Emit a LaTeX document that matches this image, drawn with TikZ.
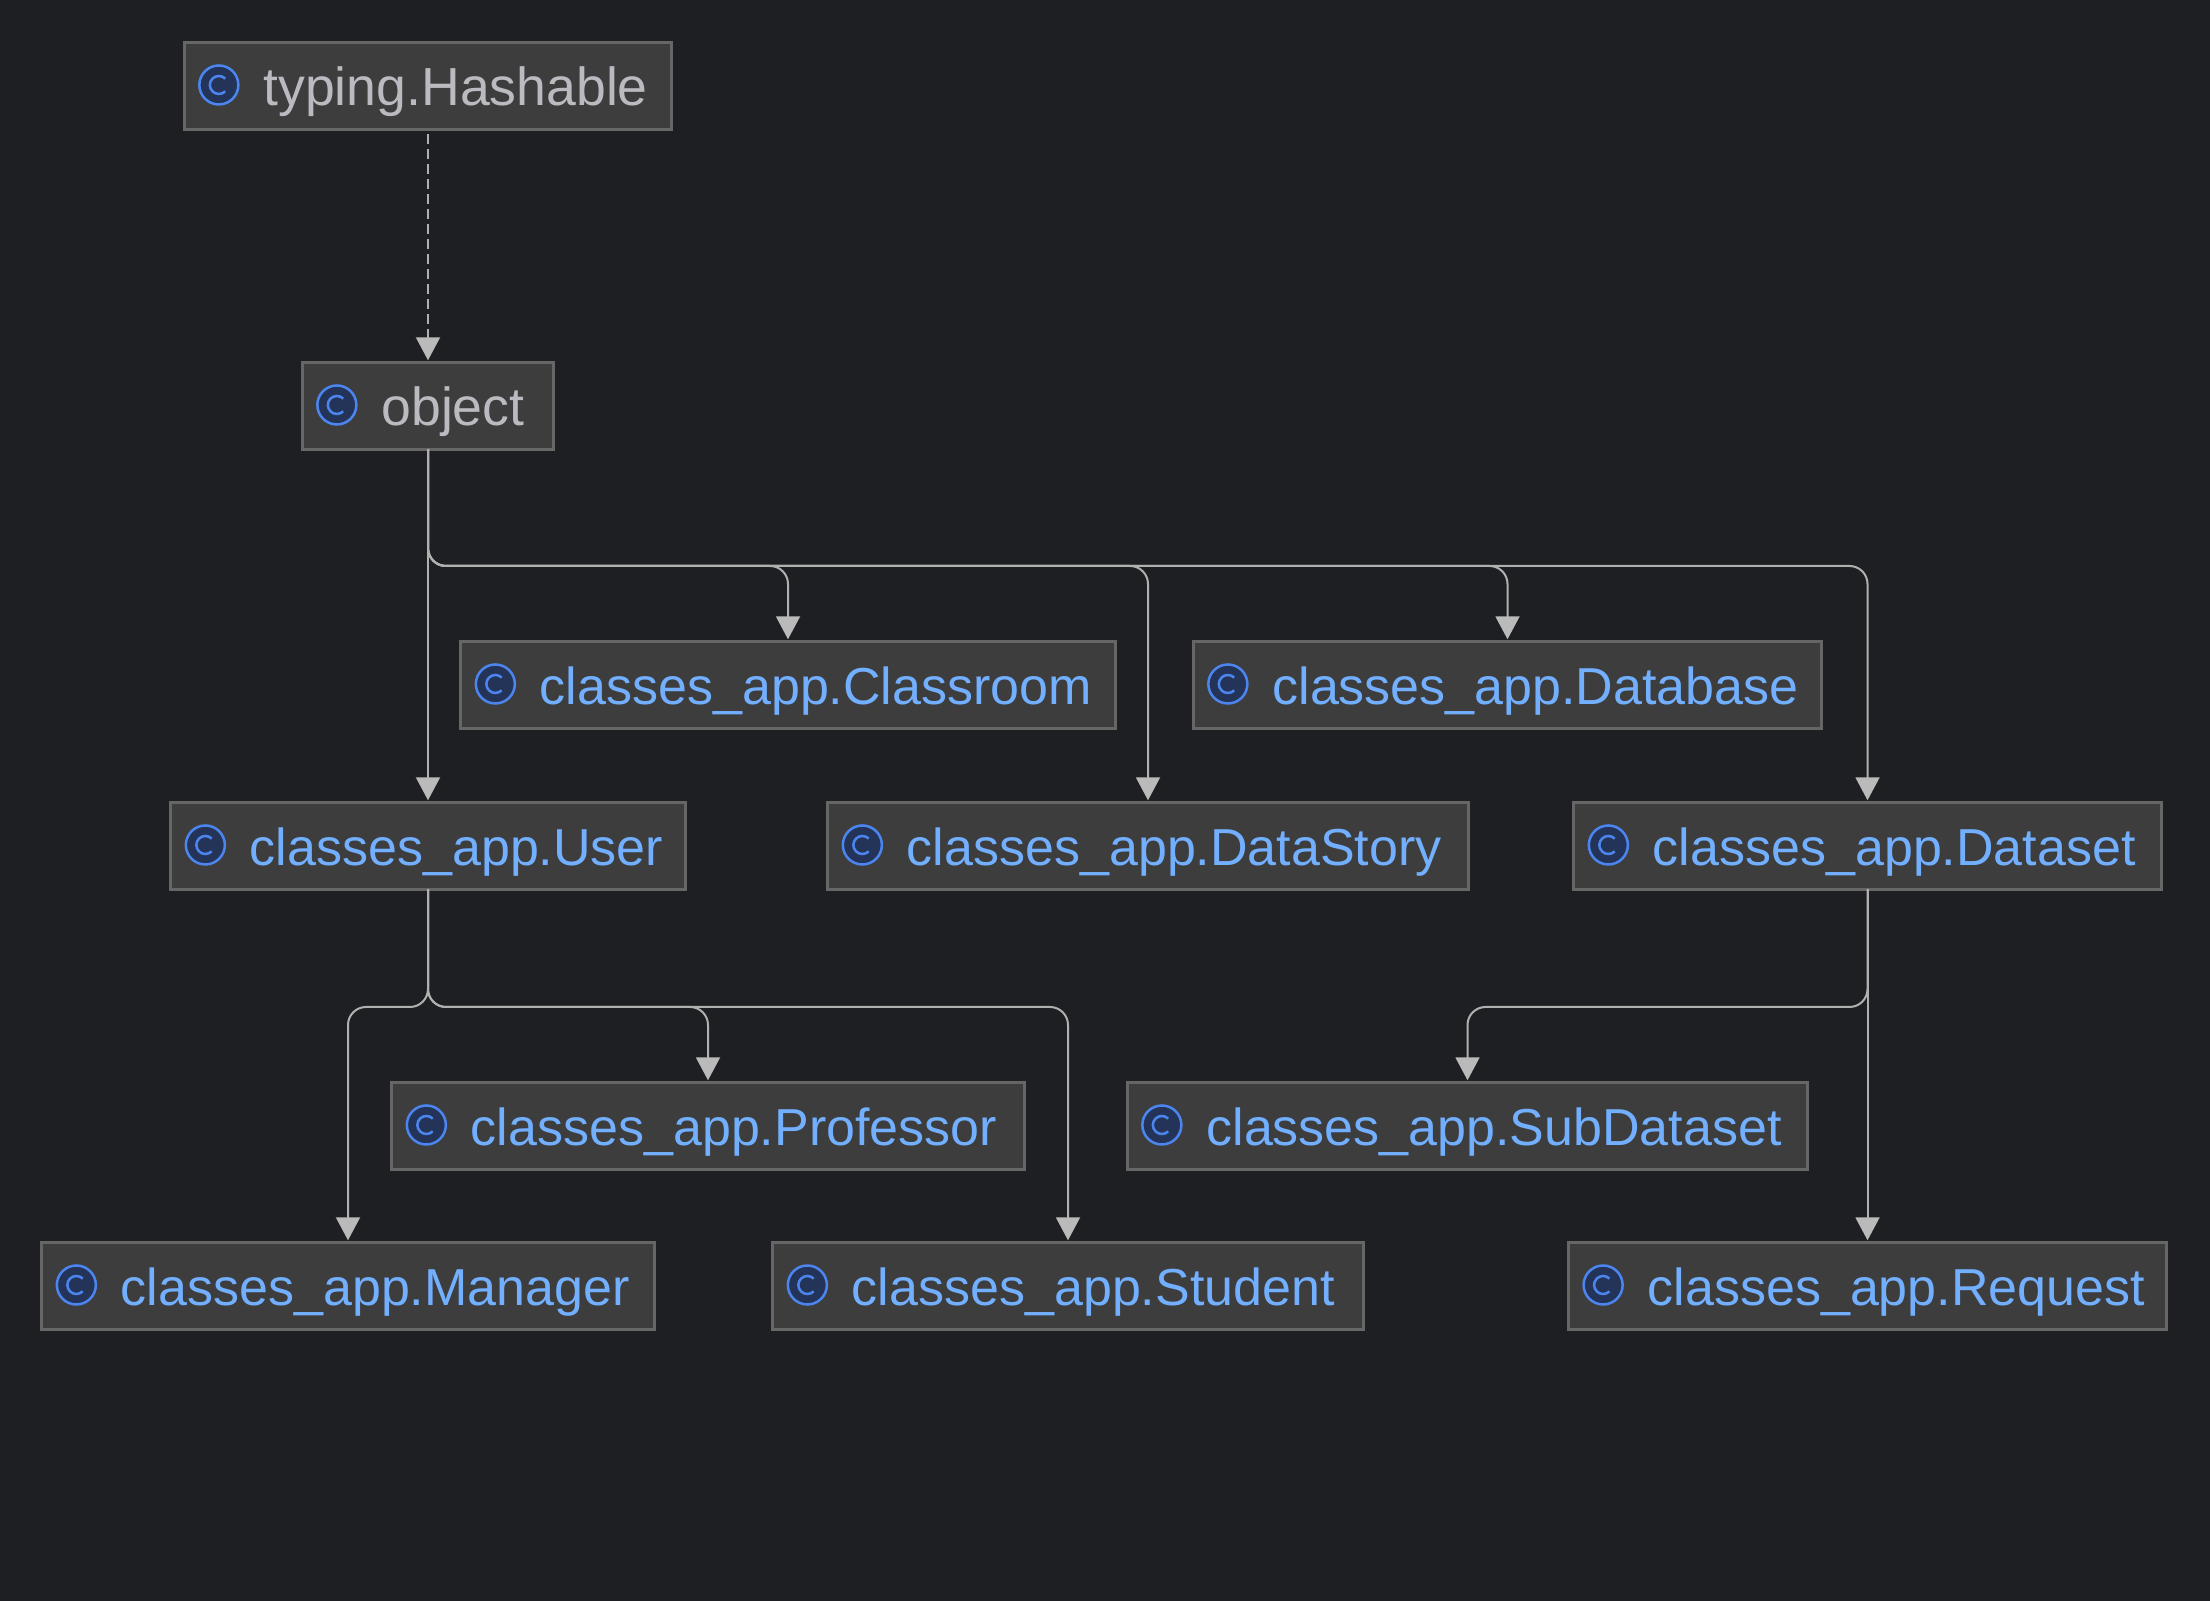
\documentclass[tikz,border=0pt]{standalone}
\usepackage{fontspec}
\setmainfont{Liberation Sans}
\usetikzlibrary{arrows.meta,calc,positioning}
\definecolor{CanvasDark}{RGB}{30,31,34}
\definecolor{BoxFill}{RGB}{61,61,61}
\definecolor{BoxEdge}{RGB}{102,102,102}
\definecolor{EdgeGray}{RGB}{176,176,176}
\definecolor{TipGray}{RGB}{186,186,186}
\definecolor{NameGray}{RGB}{186,186,192}
\definecolor{NameBlue}{RGB}{115,175,255}
\definecolor{IconBlue}{RGB}{76,133,240}
\definecolor{IconFill}{RGB}{35,52,88}
\tikzset{
  classbox/.style={draw=BoxEdge,fill=BoxFill,line width=1.5pt,inner sep=0pt,outer sep=0pt,
    text height=31.3pt,text depth=11.9pt,font=\fontsize{26}{30}\selectfont,
    execute at begin node=\hspace*{39.6pt}},
  appclass/.style={classbox,text=NameBlue},
  baseclass/.style={classbox,text=NameGray,font=\fontsize{26.8}{30}\selectfont},
  classicon/.style={circle,draw=IconBlue,fill=IconFill,line width=1.25pt,minimum size=19.5pt,inner sep=0pt},
  edge/.style={draw=EdgeGray,line width=1pt,rounded corners=9pt,shorten >=1.25pt,
    -{Triangle[width=12pt,length=11.5pt,fill=TipGray,color=TipGray]}},
}
\begin{document}
\begin{tikzpicture}[x=0.5pt,y=0.5pt]
  \useasboundingbox (0,0) rectangle (2210,1600);
  \fill[CanvasDark] (-10,-10) rectangle (2220,1610);

  \node[baseclass,text width=243.75pt] (hashable) at (428,1514) {typing.Hashable};
  \node[baseclass,text width=125.75pt] (object) at (428,1194) {object};
  \node[appclass,text width=327.25pt] (classroom) at (788,915) {classes\_app.Classroom};
  \node[appclass,text width=314.25pt] (database) at (1507.5,915) {classes\_app.Database};
  \node[appclass,text width=257.25pt] (user) at (428,754) {classes\_app.User};
  \node[appclass,text width=320.25pt] (datastory) at (1148,754) {classes\_app.DataStory};
  \node[appclass,text width=293.75pt] (dataset) at (1867.5,754) {classes\_app.Dataset};
  \node[appclass,text width=316.25pt] (professor) at (708,474) {classes\_app.Professor};
  \node[appclass,text width=340.25pt] (subdataset) at (1467.5,474) {classes\_app.SubDataset};
  \node[appclass,text width=306.25pt] (manager) at (348,314) {classes\_app.Manager};
  \node[appclass,text width=295.25pt] (student) at (1068,314) {classes\_app.Student};
  \node[appclass,text width=299pt] (request) at (1867.5,314) {classes\_app.Request};

  \foreach \name in {hashable,object,classroom,database,user,datastory,dataset,professor,subdataset,manager,student,request}{
    \node[classicon] (\name icon) at ([xshift=17.3pt,yshift=0.5pt]\name.west) {};
    \draw[IconBlue,line width=1.25pt] ($(\name icon)+(45:9)$) arc (45:315:9);
  }

  % bus heights
  \coordinate (objectbus) at (428,1034);
  \coordinate (userbus) at (428,593);
  \coordinate (datasetbus) at (1867.5,593);

  \draw[edge,dash pattern=on 5pt off 2.5pt,shorten <=2.5pt] (hashable.south) -- (object.north);

  \draw[edge] (object.south) -- (user.north);
  \foreach \target in {classroom,datastory,database,dataset}{
    \draw[edge] (object.south) |- (objectbus -| \target.north) -- (\target.north);
  }
  \foreach \target in {manager,professor,student}{
    \draw[edge] (user.south) |- (userbus -| \target.north) -- (\target.north);
  }
  \draw[edge] (dataset.south) -- (request.north);
  \draw[edge] (dataset.south) |- (datasetbus -| subdataset.north) -- (subdataset.north);
\end{tikzpicture}
\end{document}
